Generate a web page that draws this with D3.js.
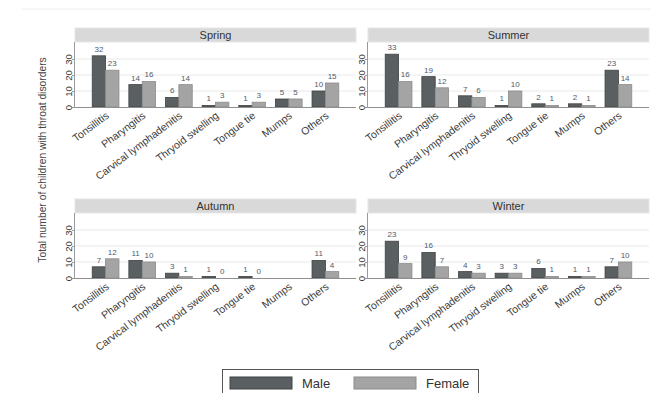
<!DOCTYPE html>
<html><head><meta charset="utf-8">
<script src="https://cdn.jsdelivr.net/npm/d3@7"></script>
<style>body{margin:0;background:#fff}svg{display:block;font-family:"Liberation Sans",Arial,sans-serif}</style>
</head><body><svg id="c" width="651" height="393"></svg>
<script>
const categories = ["Tonsillitis","Pharyngitis","Carvical lymphadenitis","Thryoid swelling","Tongue tie","Mumps","Others"];
const seasons = ["Spring","Summer","Autumn","Winter"];
const springMale   = [32,14,6,1,1,5,10];
const springFemale = [23,16,14,3,3,5,15];
const summerMale   = [33,19,7,1,2,2,23];
const summerFemale = [16,12,6,10,1,1,14];
const autumnMale   = [7,11,3,1,1,null,11];
const autumnFemale = [12,10,1,0,0,null,4];
const winterMale   = [23,16,4,3,6,1,7];
const winterFemale = [9,7,3,3,1,1,10];
const yTicks = [0,10,20,30];
const seriesNames = ["Male","Female"];
const yTitle = "Total number of children with throat disorders";

const seasonData = {
  Spring:[springMale,springFemale], Summer:[summerMale,summerFemale],
  Autumn:[autumnMale,autumnFemale], Winter:[winterMale,winterFemale]
};
const colors = {Male:"#5a5f61", Female:"#a4a4a4"};
const strokes = {Male:"#3f4344", Female:"#8c8c8c"};

const svg = d3.select("#c");
svg.append("line").attr("x1",22).attr("x2",651).attr("y1",9).attr("y2",9).attr("stroke","#eeeeee");

const panels = [
  {name:"Spring", x0:75, x1:356, hy:28, py0:42, py1:107},
  {name:"Summer", x0:368, x1:649, hy:28, py0:42, py1:107},
  {name:"Autumn", x0:75, x1:356, hy:199, py0:213, py1:278},
  {name:"Winter", x0:368, x1:649, hy:199, py0:213, py1:278}
];

panels.forEach(p=>{
  const g = svg.append("g");
  const x = d3.scaleBand().domain(categories).range([p.x0,p.x1]).paddingInner(0.27).paddingOuter(0.47);
  const xs = d3.scaleBand().domain(seriesNames).range([0,x.bandwidth()]);
  const y = d3.scaleLinear().domain([0,40]).range([p.py1,p.py1-64]);
  g.append("rect").attr("x",p.x0).attr("y",p.hy).attr("width",p.x1-p.x0).attr("height",p.py0-p.hy)
    .attr("fill","#d9d9d9").attr("stroke","#e6e6e6");
  g.append("text").attr("x",(p.x0+p.x1)/2).attr("y",(p.hy+p.py0)/2+4).attr("text-anchor","middle")
    .attr("font-size",11).attr("fill","#333").text(p.name);
  g.selectAll(".grid").data(yTicks.filter(t=>t>0)).join("line")
    .attr("x1",p.x0).attr("x2",p.x1).attr("y1",d=>y(d)).attr("y2",d=>y(d)).attr("stroke","#e9e9e9");
  const ya = g.append("g").attr("transform",`translate(${p.x0},0)`).call(d3.axisLeft(y).tickValues(yTicks).tickSize(3).tickFormat(d3.format("d")));
  ya.select(".domain").attr("stroke","#9a9a9a").attr("d",`M-0.5,${p.py0}V${p.py1}`);
  ya.selectAll(".tick line").attr("stroke","#9a9a9a");
  ya.selectAll(".tick text").attr("font-size",9.5).attr("fill","#333").attr("font-family","Liberation Sans, Arial, sans-serif")
    .attr("text-anchor","middle").attr("dy","0").attr("x",0).attr("y",0)
    .attr("transform","translate(-3,0) rotate(-90)");
  const vals = seasonData[p.name];
  seriesNames.forEach((s,si)=>{
    const arr = vals[si];
    const gg = g.append("g");
    categories.forEach((c,ci)=>{
      const v = arr[ci];
      if(v===null) return;
      if(v>0) gg.append("rect").attr("x",x(c)+xs(s)).attr("y",y(v)).attr("width",xs.bandwidth())
        .attr("height",y(0)-y(v)).attr("fill",colors[s]).attr("stroke",strokes[s]).attr("stroke-width",0.8);
      gg.append("text").attr("x",x(c)+xs(s)+xs.bandwidth()/2).attr("y",y(v)-4).attr("text-anchor","middle")
        .attr("font-size",8).attr("fill","#4f5a6e").text(v);
    });
  });
  g.append("line").attr("x1",p.x0).attr("x2",p.x1).attr("y1",y(0)+0.5).attr("y2",y(0)+0.5).attr("stroke","#8f8f8f");
  g.selectAll(".xl").data(categories).join("text")
    .attr("transform",d=>`translate(${x(d)+x.bandwidth()/2+4},${p.py1+10}) rotate(-37)`)
    .attr("text-anchor","end").attr("font-size",10.5).attr("fill","#3a3a3a").text(d=>d);
});

svg.append("text").attr("transform","translate(46,160) rotate(-90)").attr("text-anchor","middle")
  .attr("font-size",10.3).attr("fill","#444").text(yTitle);

const lg = svg.append("g");
lg.append("rect").attr("x",222.5).attr("y",369.5).attr("width",256).attr("height",30).attr("fill","#fff").attr("stroke","#555");
const lx = d3.scaleOrdinal().domain(seriesNames).range([230,354]);
seriesNames.forEach(s=>{
  lg.append("rect").attr("x",lx(s)).attr("y",377).attr("width",62).attr("height",12).attr("fill",colors[s]).attr("stroke",strokes[s]);
  lg.append("text").attr("x",lx(s)+72).attr("y",388).attr("font-size",13).attr("fill","#333").text(s);
});
</script></body></html>
